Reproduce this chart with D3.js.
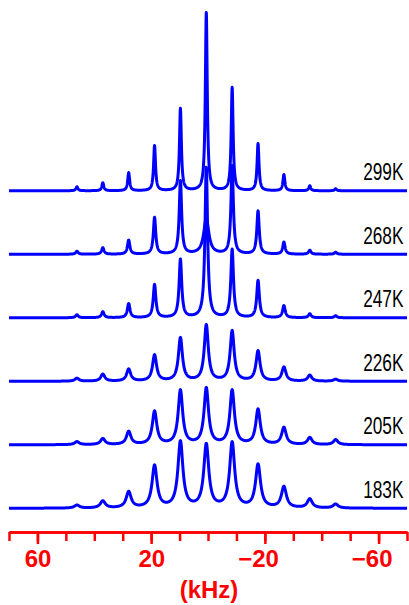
<!DOCTYPE html>
<html><head><meta charset="utf-8">
<script src="https://cdn.jsdelivr.net/npm/d3@7"></script>
<style>html,body{margin:0;padding:0;background:#fff;}svg{display:block;}</style>
</head><body>
<svg id="c" width="409" height="605"></svg>
<script>
// ---- data ----
const temperatures = ["299K","268K","247K","226K","205K","183K"];
// satellite line positions (kHz)
const peakPositions = [46.1, 37.0, 27.9, 18.8, 9.7, 0.6, -8.5, -17.6, -26.7, -35.8, -44.9];
// peak intensities (arb. units) per temperature, same order as peakPositions
const h299 = [4, 8, 18, 45, 82, 178, 103, 47, 16, 5, 2];
const h268 = [3, 6.5, 14, 36.6, 73, 35, 88, 43, 12, 4, 2];
const h247 = [3, 6, 14, 33, 58, 150, 68, 37, 12, 4, 2];
const h226 = [3, 7, 12, 26, 43, 56, 50, 30, 14, 6, 2];
const h205 = [3, 6, 13, 33, 54, 56, 54, 35, 17, 7, 5];
const h183 = [3, 7, 16, 42, 66, 63, 65, 43, 21, 9, 4];
const heights = [h299, h268, h247, h226, h205, h183];
// line widths (FWHM, kHz) per temperature, and of the central line
const lineWidths = [0.8, 1.0, 1.1, 1.7, 1.9, 2.1];
const centerWidths = [0.8, 2.2, 1.1, 1.7, 1.9, 2.1];
const minorTicks = [70, 60, 50, 40, 30, 20, 10, 0, -10, -20, -30, -40, -50, -60, -70];
const majorTicks = [60, 20, -20, -60];
const axisTitle = "(kHz)";

// ---- drawing ----
const svg = d3.select("#c");
const x = d3.scaleLinear().domain([70, -70]).range([9, 407]);
const base = d3.scalePoint().domain(temperatures).range([190.8, 508.3]);

const grid = d3.range(70, -70.001, -0.05);
function spectrum(i) {
  const hs = heights[i];
  return grid.map(f => {
    let s = 0;
    peakPositions.forEach((p, k) => {
      const w = (k === 5 ? centerWidths[i] : lineWidths[i]) / 2;
      s += hs[k] * w * w / ((f - p) * (f - p) + w * w);
    });
    return [f, s];
  });
}

temperatures.forEach((t, i) => {
  const y = d3.scaleLinear().domain([0, 200]).range([base(t), base(t) - 200]);
  const line = d3.line().x(d => x(d[0])).y(d => y(d[1]));
  svg.append("path")
    .attr("d", line(spectrum(i)))
    .attr("fill", "none")
    .attr("stroke", "#0000ff")
    .attr("stroke-width", 3)
    .attr("stroke-linejoin", "round");
  svg.append("g")
    .attr("transform", `translate(403.5,${base(t) - 10.5}) scale(0.72,1)`)
    .append("text")
    .attr("text-anchor", "end")
    .attr("font-family", "'Liberation Sans',Arial,sans-serif")
    .attr("font-size", 24)
    .attr("fill", "#000")
    .text(t);
});

// axis
const gMinor = svg.append("g").attr("transform", "translate(0,532)")
  .call(d3.axisBottom(x).tickValues(minorTicks).tickSize(9).tickSizeOuter(0).tickFormat(""));
const gMajor = svg.append("g").attr("transform", "translate(0,532)")
  .call(d3.axisBottom(x).tickValues(majorTicks).tickSize(12).tickSizeOuter(0));
[gMinor, gMajor].forEach(g => {
  g.select(".domain").attr("stroke", "#ff0000").attr("stroke-width", 2.5);
  g.selectAll(".tick line").attr("stroke", "#ff0000").attr("stroke-width", 2.5);
});
gMajor.selectAll(".tick text")
  .attr("fill", "#ff0000")
  .attr("font-family", "'Liberation Sans',Arial,sans-serif")
  .attr("font-weight", "bold")
  .attr("font-size", 24)
  .attr("text-anchor", "end")
  .attr("x", 13.5)
  .attr("y", 34.5)
  .attr("dy", 0);

svg.append("text")
  .attr("x", 209).attr("y", 598)
  .attr("text-anchor", "middle")
  .attr("font-family", "'Liberation Sans',Arial,sans-serif")
  .attr("font-size", 24)
  .attr("font-weight", 600)
  .attr("fill", "#ff0000")
  .text(axisTitle);
</script>
</body></html>
